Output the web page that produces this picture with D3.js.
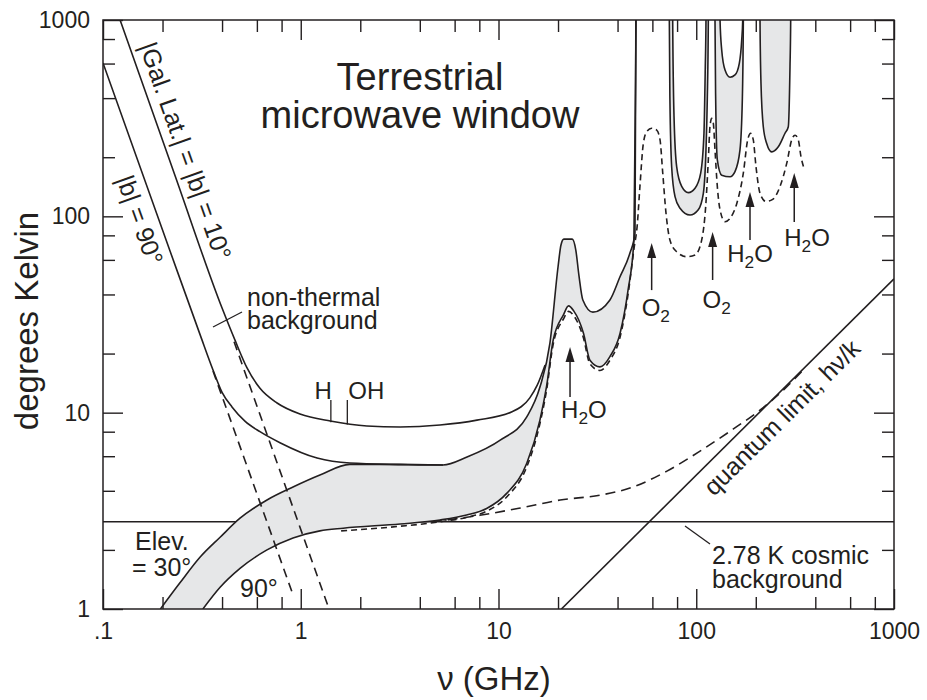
<!DOCTYPE html>
<html>
<head>
<meta charset="utf-8">
<script src="https://cdn.jsdelivr.net/npm/d3@7"></script>
<style>
  body { margin: 0; background: #fff; }
  svg { display: block; }
</style>
</head>
<body>
<svg id="chart" width="927" height="700"></svg>
<script>
// ---- axes -------------------------------------------------------------
const xDomain = [0.1, 1000];          // frequency, GHz
const yDomain = [1, 1000];            // brightness temperature, K
const xTickValues = [0.1, 1, 10, 100, 1000];
const xTickLabels = [".1", "1", "10", "100", "1000"];
const yTickValues = [1, 10, 100, 1000];
const yTickLabels = ["1", "10", "100", "1000"];
const xMinorTicks = [0.2, 0.4, 0.6, 0.8, 2, 4, 6, 8, 20, 40, 60, 80, 200, 400, 600, 800];
const yMinorTicks = [2, 4, 6, 8, 20, 40, 60, 80, 200, 400, 600, 800];

// ---- curves: [frequency GHz, temperature K] ---------------------------
// total sky, galactic latitude |b| = 10 deg
const skyLat10 = [[0.122,1000],[0.231,162],[0.400,34.1],[0.465,23.4],[0.535,16.9],[0.622,13.3],
  [0.759,11.2],[0.991,9.84],[1.41,9.06],[2.16,8.55],[3.18,8.45],[5.06,8.65],[7.78,9.16],
  [11.7,10.1],[14.4,11.9],[15.7,13.8],[17.2,17.5]];
// galactic non-thermal emission alone, |b| = 10 deg
const galLat10 = [[0.46,23.0],[1.39,1.0]];

// total sky, |b| = 90 deg
const skyLat90 = [[0.1,604],[0.218,66.8],[0.310,24.9],[0.360,16.5],[0.400,12.7],[0.449,10.7],
  [0.522,9.06],[0.622,8.0],[0.785,7.03],[1.21,5.87],[1.77,5.54],[3.2,5.45],[5.24,5.41]];
// galactic non-thermal emission alone, |b| = 90 deg
const galLat90 = [[0.36,16.3],[0.914,1.18]];

// atmosphere + background at 30 deg elevation
const elev30Sky = [[0.195,1.0],[0.245,1.36],[0.310,1.84],[0.391,2.32],[0.493,2.90],[0.675,3.59],
  [0.914,4.18],[1.25,4.81],[1.77,5.45],[2.5,5.45],[3.5,5.43],[5.24,5.41],[6.93,5.94],[10.2,7.24],
  [13.9,9.51],[16.2,13.5],[18.2,22.6],[20.0,55.2],[20.7,71.5],[21.4,76.5],[23.6,76.5],[24.6,67.3],
  [25.5,50.2],[26.7,37.5],[30.0,32.5],[36.6,37.5],[41.1,49.1],[46.2,65.0],[49.0,82.2],[49.5,1000],
  [49.9,3000],[75.8,3000],[76.0,1000],[77.2,322],[79.6,179],[84.4,142],[91.2,132],[98.6,139],
  [105.3,166],[109.4,265],[111.1,578],[112.0,1000],[112.3,3000],[131.6,3000],[131.9,1000],
  [134.5,703],[139.8,556],[148.2,511],[157.0,525],[165.1,602],[169.8,791],[171.8,1000],
  [172.2,3000],[1000,3000]];

// atmosphere + background at the zenith (90 deg elevation)
const zenithSky = [[0.32,1.0],[0.391,1.29],[0.493,1.61],[0.675,2.00],[0.914,2.30],[1.25,2.50],
  [1.64,2.58],[3.18,2.71],[5.06,2.84],[6.90,3.01],[8.71,3.25],[11.0,3.88],[13.9,5.52],[16.2,9.16],
  [17.5,13.6],[18.9,23.4],[21.3,31.5],[22.6,35.0],[24.0,33.0],[26.9,25.4],[29.0,18.5],[32.6,17.1],
  [36.6,19.3],[41.2,25.4],[45.2,42.1],[48.4,75.7],[49.6,1000],[50.0,3000],[73.0,3000],[73.1,1000],
  [73.6,391],[75.1,179],[78.1,126],[82.8,110],[93.0,101.5],[102.4,108],[108.6,131],[112.0,218],
  [113.7,391],[115.1,1000],[115.5,3000],[124.0,3000],[124.4,1000],[125.4,391],[127.8,194],
  [134.5,162],[148.2,159],[157.0,169],[166.4,218],[171.0,391],[173.0,1000],[173.5,3000],
  [209.5,3000],[210.1,1000],[212.5,476],[218.3,286],[227.1,235],[240.8,213],[260.0,226],
  [281.1,265],[292.1,286],[297.9,578],[300.3,1000],[300.8,3000],[1000,3000]];

// dry high site, zenith
const drySite = [[1.6,2.5],[3.18,2.64],[5.06,2.78],[6.90,2.93],[8.71,3.15],[11.0,3.72],[13.9,5.3],
  [16.2,8.8],[17.5,13.0],[18.9,22.3],[21.3,30.0],[22.6,32.8],[24.0,31.2],[26.9,24.0],[29.0,17.7],
  [32.6,16.4],[36.6,18.5],[41.2,24.3],[45.2,40.0],[48.4,68.0],[50.3,90],[51.9,142],[54.0,235],
  [56.2,270],[59.5,281],[63.1,275],[65.6,245],[67.7,166],[70.3,104],[73.6,75.7],[79.6,66.0],
  [89.5,62.3],[98.6,63.5],[106.5,75.7],[111.6,112],[115.1,194],[117.3,286],[119.7,316],
  [122.0,298],[124.4,218],[127.8,142],[131.9,108],[139.8,93.9],[148.2,97.7],[160.2,116],
  [173.0,166],[182.0,245],[188.5,265],[194.3,245],[200.5,179],[210.1,131],[225.3,119],
  [243.6,122],[265.2,142],[286.7,186],[303.9,245],[315.8,259],[328.2,245],[338.6,201],[350.6,176]];

// cosmic background plus quantum noise
const cmbPlusQuantum = [[4.6,2.78],[8.05,3.0],[12.9,3.27],[20.5,3.59],[32.6,3.8],[47.9,4.18],
  [71.1,5.04],[104.5,6.37],[153.5,8.24],[210,10.3],[275,13.0],[347,16.5]];

// quantum limit h nu / k
const quantumLimit = [[20.8,1.0],[1000,48]];
// cosmic microwave background
const cmbTemperature = 2.78;

// spectral lines marked with arrows: frequency, arrow base and tip (K)
const lineMolecules = ["H2O", "O2", "O2", "H2O", "H2O"];
const lineNu = [23.0, 59.5, 121, 187, 313];
const lineArrowBase = [12.0, 42.1, 47.4, 75.7, 93.6];
const lineArrowTip = [21.6, 73.1, 83.2, 133, 166];

// H and OH line markers
const markerLabels = ["H", "OH"];
const markerNu = [1.42, 1.72];
const markerBase = [8.95, 8.7];
const markerTop = [11.6, 11.6];

// ---- drawing ----------------------------------------------------------
const ink = "#231f20";
const bandFill = "#e6e7e8";
const font = "'Liberation Sans', Arial, Helvetica, sans-serif";
const plotL = 103, plotR = 894, plotT = 20, plotB = 609;

const svg = d3.select("#chart");
const x = d3.scaleLog().domain(xDomain).range([plotL, plotR]);
const y = d3.scaleLog().domain(yDomain).range([plotB, plotT]);

svg.append("defs").append("clipPath").attr("id", "plotClip")
  .append("rect").attr("x", plotL).attr("y", plotT)
  .attr("width", plotR - plotL).attr("height", plotB - plotT);

const plot = svg.append("g").attr("clip-path", "url(#plotClip)");
const smooth = d3.line().x(d => x(d[0])).y(d => y(d[1])).curve(d3.curveMonotoneX);
const straight = d3.line().x(d => x(d[0])).y(d => y(d[1]));

function stroke(path, dash) {
  path.attr("fill", "none").attr("stroke", ink).attr("stroke-width", 1.6)
      .attr("stroke-linejoin", "round");
  if (dash) path.attr("stroke-dasharray", dash);
  return path;
}

// 2.78 K background line (sits beneath the shaded band)
stroke(plot.append("path").attr("d", straight([[xDomain[0], cmbTemperature], [xDomain[1], cmbTemperature]])));

// shaded band between 30 deg elevation and zenith
const bandPath = smooth(elev30Sky) + "L" + smooth(zenithSky.slice().reverse()).slice(1) + "Z";
plot.append("path").attr("d", bandPath).attr("fill", bandFill).attr("stroke", "none");

stroke(plot.append("path").attr("d", smooth(elev30Sky)));
stroke(plot.append("path").attr("d", smooth(zenithSky)));
stroke(plot.append("path").attr("d", smooth(skyLat10)));
stroke(plot.append("path").attr("d", smooth(skyLat90)));
stroke(plot.append("path").attr("d", straight(galLat10)), "9,6");
stroke(plot.append("path").attr("d", straight(galLat90)), "9,6");
stroke(plot.append("path").attr("d", smooth(drySite)), "6,4");
stroke(plot.append("path").attr("d", smooth(cmbPlusQuantum)), "10,6");
stroke(plot.append("path").attr("d", straight(quantumLimit)));

// ---- frame and ticks --------------------------------------------------
function finishAxis(sel) {
  sel.select(".domain").remove();
  sel.selectAll("line").attr("stroke", ink).attr("stroke-width", 1.4);
  sel.selectAll("text").attr("fill", ink).attr("font-size", 23).attr("font-family", font);
  sel.attr("font-family", font);
}
const fmtX = (d, i) => xTickLabels[i];
const fmtY = (d, i) => yTickLabels[i];

svg.append("g").attr("transform", `translate(0,${plotB})`)
  .call(d3.axisBottom(x).tickValues(xTickValues).tickSizeInner(-20).tickSizeOuter(0).tickPadding(14).tickFormat(fmtX))
  .call(finishAxis);
svg.append("g").attr("transform", `translate(0,${plotB})`)
  .call(d3.axisBottom(x).tickValues(xMinorTicks).tickSizeInner(-12).tickSizeOuter(0).tickFormat(""))
  .call(finishAxis);
svg.append("g").attr("transform", `translate(0,${plotT})`)
  .call(d3.axisTop(x).tickValues(xTickValues).tickSizeInner(-20).tickSizeOuter(0).tickFormat(""))
  .call(finishAxis);
svg.append("g").attr("transform", `translate(0,${plotT})`)
  .call(d3.axisTop(x).tickValues(xMinorTicks).tickSizeInner(-12).tickSizeOuter(0).tickFormat(""))
  .call(finishAxis);
svg.append("g").attr("transform", `translate(${plotL},0)`)
  .call(d3.axisLeft(y).tickValues(yTickValues).tickSizeInner(-20).tickSizeOuter(0).tickPadding(13).tickFormat(fmtY))
  .call(finishAxis);
svg.append("g").attr("transform", `translate(${plotL},0)`)
  .call(d3.axisLeft(y).tickValues(yMinorTicks).tickSizeInner(-12).tickSizeOuter(0).tickFormat(""))
  .call(finishAxis);
svg.append("g").attr("transform", `translate(${plotR},0)`)
  .call(d3.axisRight(y).tickValues(yTickValues).tickSizeInner(-20).tickSizeOuter(0).tickFormat(""))
  .call(finishAxis);
svg.append("g").attr("transform", `translate(${plotR},0)`)
  .call(d3.axisRight(y).tickValues(yMinorTicks).tickSizeInner(-12).tickSizeOuter(0).tickFormat(""))
  .call(finishAxis);

svg.append("rect").attr("x", plotL).attr("y", plotT)
  .attr("width", plotR - plotL).attr("height", plotB - plotT)
  .attr("fill", "none").attr("stroke", ink).attr("stroke-width", 1.5);

// ---- text helpers ------------------------------------------------------
function label(px, py, str, size, anchor, rotate) {
  const t = svg.append("text")
    .attr("font-family", font).attr("font-size", size).attr("fill", ink)
    .attr("text-anchor", anchor || "start")
    .attr("transform", `translate(${px},${py})` + (rotate ? ` rotate(${rotate})` : ""))
    .text(str);
  return t;
}
function leader(x1, y1, x2, y2) {
  svg.append("line").attr("x1", x1).attr("y1", y1).attr("x2", x2).attr("y2", y2)
    .attr("stroke", ink).attr("stroke-width", 1.3);
}
function molecule(px, py, name, size, anchor) {
  const t = svg.append("text").attr("font-family", font).attr("font-size", size)
    .attr("fill", ink).attr("text-anchor", anchor).attr("x", px).attr("y", py);
  if (name === "H2O") {
    t.append("tspan").text("H");
    t.append("tspan").attr("font-size", size * 0.72).attr("dy", 6).text("2");
    t.append("tspan").attr("dy", -6).text("O");
  } else {
    t.append("tspan").text("O");
    t.append("tspan").attr("font-size", size * 0.72).attr("dy", 6).text("2");
  }
}

// title
label(420, 90, "Terrestrial", 38, "middle");
label(420, 128, "microwave window", 38, "middle");

// axis titles
label(38, 321, "degrees Kelvin", 33, "middle", -90);
label(494, 690, "\u03bd (GHz)", 33, "middle");

// galactic latitude labels, aligned with their lines
const ang10 = Math.atan2(y(galLat10[1][1]) - y(skyLat10[0][1]), x(galLat10[1][0]) - x(skyLat10[0][0])) * 180 / Math.PI;
const ang90 = Math.atan2(y(galLat90[1][1]) - y(skyLat90[0][1]), x(galLat90[1][0]) - x(skyLat90[0][0])) * 180 / Math.PI;
label(139, 46, "|Gal. Lat.| = |b| = 10\u00b0", 25, "start", ang10);
label(116, 179, "|b| = 90\u00b0", 25, "start", ang90);

// non-thermal background
label(247, 306, "non-thermal", 25);
label(247, 329, "background", 25);
leader(213, 327, 242, 312);

// H and OH markers
markerLabels.forEach((m, i) => {
  const mx = x(markerNu[i]);
  svg.append("line").attr("x1", mx).attr("x2", mx)
    .attr("y1", y(markerBase[i])).attr("y2", y(markerTop[i]))
    .attr("stroke", ink).attr("stroke-width", 1.3);
  if (i === 0) label(mx + 1, 399, m, 24, "end");
  else label(mx + 1, 399, m, 24, "start");
});

// spectral line arrows
const molAnchor = ["start", "start", "start", "middle", "start"];
const molDx = [-9, -10, -10, 0, -10];
const molDy = [21, 26, 28, 22, 24];
lineNu.forEach((nu, i) => {
  const ax = x(nu), yb = y(lineArrowBase[i]), yt = y(lineArrowTip[i]);
  svg.append("line").attr("x1", ax).attr("x2", ax).attr("y1", yb).attr("y2", yt + 12)
    .attr("stroke", ink).attr("stroke-width", 1.5);
  svg.append("path").attr("d", `M${ax},${yt} L${ax - 4.5},${yt + 15} L${ax + 4.5},${yt + 15} Z`)
    .attr("fill", ink);
  molecule(ax + molDx[i], yb + molDy[i], lineMolecules[i], 24, molAnchor[i]);
});

// quantum limit label, parallel to its line
const angQ = Math.atan2(y(quantumLimit[1][1]) - y(quantumLimit[0][1]), x(quantumLimit[1][0]) - x(quantumLimit[0][0])) * 180 / Math.PI;
label(714, 497, "quantum limit, h\u03bd/k", 25, "start", angQ);

// cosmic background label
label(712, 564, "2.78 K cosmic", 25);
label(712, 588, "background", 25);
leader(685, 526, 710, 544);

// elevation labels
label(135, 550, "Elev.", 25);
label(132, 576, "= 30\u00b0", 25);
label(240, 597, "90\u00b0", 25);
</script>
</body>
</html>
